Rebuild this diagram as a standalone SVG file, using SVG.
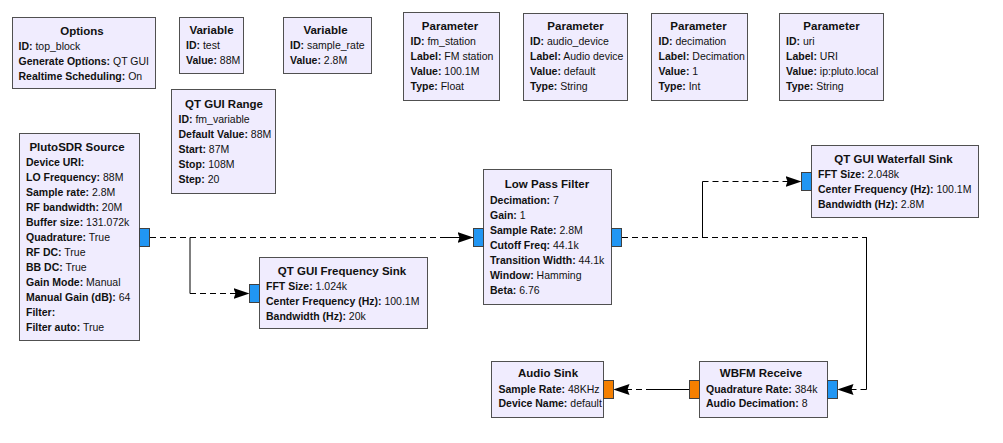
<svg xmlns="http://www.w3.org/2000/svg" width="1003" height="443" viewBox="0 0 1003 443">
<style>
text{font-family:"Liberation Sans",Arial,sans-serif;fill:#111}
.t{font-size:11.5px;font-weight:bold;text-anchor:middle}
.b{font-size:10.5px}
.k{font-weight:bold}
.blk{fill:#F0ECFE;stroke:#505050;stroke-width:1}
.pc{fill:#2196F3;stroke:#404040;stroke-width:1}
.pf{fill:#F57F00;stroke:#404040;stroke-width:1}
.d{fill:none;stroke:#000;stroke-width:1;stroke-dasharray:6 4}
.s{fill:none;stroke:#000;stroke-width:1}
.a{marker-end:url(#arr)}
</style>
<defs>
<marker id="arr" markerUnits="userSpaceOnUse" markerWidth="16" markerHeight="12" viewBox="0 0 16 12" refX="16" refY="6" orient="auto">
<path d="M0,0.5 L16,6 L0,11.5 L2,6 z" fill="#000" stroke="none"/>
</marker>
</defs>
<rect width="1003" height="443" fill="#fff"/>

<g id="connectors">
<path class="d" d="M150,237.5 H457"/>
<path class="s a" d="M440,237.5 H473.5"/>
<path class="s" d="M190,237.5 V293.5"/>
<path class="d a" d="M190,293.5 H249.5"/>
<path class="d" d="M622,237.5 H867"/>
<path class="s" d="M702.5,237.5 V181.5"/>
<path class="d a" d="M702.5,181.5 H801.5"/>
<path class="s" d="M866.5,237.5 V389.5"/>
<path class="d a" d="M866.5,389.5 H837.5"/>
<path class="s" d="M689.5,389.5 H652"/>
<path class="d a" d="M652,389.5 H613.5"/>
</g>

<g id="options">
<rect class="blk" x="12.5" y="17.5" width="143" height="71"/>
<text class="t" x="82" y="34.5">Options</text>
<text class="b" x="18.5" y="49.5"><tspan class="k">ID:</tspan> top_block</text>
<text class="b" x="18.5" y="64.5"><tspan class="k">Generate Options:</tspan> QT GUI</text>
<text class="b" x="18.5" y="79.5"><tspan class="k">Realtime Scheduling:</tspan> On</text>
</g>

<g id="variable_test">
<rect class="blk" x="179.5" y="17.5" width="64" height="56"/>
<text class="t" x="211.5" y="34">Variable</text>
<text class="b" x="186" y="49"><tspan class="k">ID:</tspan> test</text>
<text class="b" x="186" y="64"><tspan class="k">Value:</tspan> 88M</text>
</g>

<g id="variable_sample_rate">
<rect class="blk" x="283.5" y="17.5" width="88" height="56"/>
<text class="t" x="325.5" y="34">Variable</text>
<text class="b" x="290" y="49"><tspan class="k">ID:</tspan> sample_rate</text>
<text class="b" x="290" y="64"><tspan class="k">Value:</tspan> 2.8M</text>
</g>

<g id="param_fm_station">
<rect class="blk" x="403.5" y="12.5" width="96" height="88"/>
<text class="t" x="450" y="29.5">Parameter</text>
<text class="b" x="410.5" y="44.5"><tspan class="k">ID:</tspan> fm_station</text>
<text class="b" x="410.5" y="59.5"><tspan class="k">Label:</tspan> FM station</text>
<text class="b" x="410.5" y="74.5"><tspan class="k">Value:</tspan> 100.1M</text>
<text class="b" x="410.5" y="89.5"><tspan class="k">Type:</tspan> Float</text>
</g>

<g id="param_audio_device">
<rect class="blk" x="523.5" y="13.5" width="104" height="87"/>
<text class="t" x="575.5" y="30">Parameter</text>
<text class="b" x="530" y="45"><tspan class="k">ID:</tspan> audio_device</text>
<text class="b" x="530" y="60"><tspan class="k">Label:</tspan> Audio device</text>
<text class="b" x="530" y="75"><tspan class="k">Value:</tspan> default</text>
<text class="b" x="530" y="90"><tspan class="k">Type:</tspan> String</text>
</g>

<g id="param_decimation">
<rect class="blk" x="651.5" y="13.5" width="96" height="87"/>
<text class="t" x="698.5" y="30">Parameter</text>
<text class="b" x="658.5" y="45"><tspan class="k">ID:</tspan> decimation</text>
<text class="b" x="658.5" y="60"><tspan class="k">Label:</tspan> Decimation</text>
<text class="b" x="658.5" y="75"><tspan class="k">Value:</tspan> 1</text>
<text class="b" x="658.5" y="90"><tspan class="k">Type:</tspan> Int</text>
</g>

<g id="param_uri">
<rect class="blk" x="779.5" y="13.5" width="104" height="87"/>
<text class="t" x="831.5" y="30">Parameter</text>
<text class="b" x="786" y="45"><tspan class="k">ID:</tspan> uri</text>
<text class="b" x="786" y="60"><tspan class="k">Label:</tspan> URI</text>
<text class="b" x="786" y="75"><tspan class="k">Value:</tspan> ip:pluto.local</text>
<text class="b" x="786" y="90"><tspan class="k">Type:</tspan> String</text>
</g>

<g id="qt_gui_range">
<rect class="blk" x="171.5" y="89.5" width="104" height="104"/>
<text class="t" x="224" y="107.5">QT GUI Range</text>
<text class="b" x="178.5" y="122.5"><tspan class="k">ID:</tspan> fm_variable</text>
<text class="b" x="178.5" y="137.5"><tspan class="k">Default Value:</tspan> 88M</text>
<text class="b" x="178.5" y="152.5"><tspan class="k">Start:</tspan> 87M</text>
<text class="b" x="178.5" y="167.5"><tspan class="k">Stop:</tspan> 108M</text>
<text class="b" x="178.5" y="182.5"><tspan class="k">Step:</tspan> 20</text>
</g>

<g id="plutosdr_source">
<rect class="blk" x="19.5" y="133.5" width="120" height="207"/>
<text class="t" x="77" y="150.5">PlutoSDR Source</text>
<text class="b" x="26" y="165.5"><tspan class="k">Device URI:</tspan></text>
<text class="b" x="26" y="180.5"><tspan class="k">LO Frequency:</tspan> 88M</text>
<text class="b" x="26" y="195.5"><tspan class="k">Sample rate:</tspan> 2.8M</text>
<text class="b" x="26" y="210.5"><tspan class="k">RF bandwidth:</tspan> 20M</text>
<text class="b" x="26" y="225.5"><tspan class="k">Buffer size:</tspan> 131.072k</text>
<text class="b" x="26" y="240.5"><tspan class="k">Quadrature:</tspan> True</text>
<text class="b" x="26" y="255.5"><tspan class="k">RF DC:</tspan> True</text>
<text class="b" x="26" y="270.5"><tspan class="k">BB DC:</tspan> True</text>
<text class="b" x="26" y="285.5"><tspan class="k">Gain Mode:</tspan> Manual</text>
<text class="b" x="26" y="300.5"><tspan class="k">Manual Gain (dB):</tspan> 64</text>
<text class="b" x="26" y="315.5"><tspan class="k">Filter:</tspan></text>
<text class="b" x="26" y="330.5"><tspan class="k">Filter auto:</tspan> True</text>
<rect class="pc" x="139.5" y="228.5" width="10" height="18"/>
</g>

<g id="qt_gui_freq_sink">
<rect class="blk" x="259.5" y="257.5" width="168" height="71"/>
<text class="t" x="342" y="274.5">QT GUI Frequency Sink</text>
<text class="b" x="266" y="290"><tspan class="k">FFT Size:</tspan> 1.024k</text>
<text class="b" x="266" y="305"><tspan class="k">Center Frequency (Hz):</tspan> 100.1M</text>
<text class="b" x="266" y="320"><tspan class="k">Bandwidth (Hz):</tspan> 20k</text>
<rect class="pc" x="249.5" y="284.5" width="10" height="18"/>
</g>

<g id="low_pass_filter">
<rect class="blk" x="483.5" y="169.5" width="128" height="135"/>
<text class="t" x="547" y="188">Low Pass Filter</text>
<text class="b" x="490" y="203.5"><tspan class="k">Decimation:</tspan> 7</text>
<text class="b" x="490" y="218.5"><tspan class="k">Gain:</tspan> 1</text>
<text class="b" x="490" y="233.5"><tspan class="k">Sample Rate:</tspan> 2.8M</text>
<text class="b" x="490" y="248.5"><tspan class="k">Cutoff Freq:</tspan> 44.1k</text>
<text class="b" x="490" y="263.5"><tspan class="k">Transition Width:</tspan> 44.1k</text>
<text class="b" x="490" y="278.5"><tspan class="k">Window:</tspan> Hamming</text>
<text class="b" x="490" y="293.5"><tspan class="k">Beta:</tspan> 6.76</text>
<rect class="pc" x="473.5" y="228.5" width="10" height="18"/>
<rect class="pc" x="611.5" y="228.5" width="10" height="18"/>
</g>

<g id="qt_gui_waterfall_sink">
<rect class="blk" x="811.5" y="145.5" width="167" height="72"/>
<text class="t" x="893.5" y="162.5">QT GUI Waterfall Sink</text>
<text class="b" x="818" y="177.5"><tspan class="k">FFT Size:</tspan> 2.048k</text>
<text class="b" x="818" y="192.5"><tspan class="k">Center Frequency (Hz):</tspan> 100.1M</text>
<text class="b" x="818" y="207.5"><tspan class="k">Bandwidth (Hz):</tspan> 2.8M</text>
<rect class="pc" x="801.5" y="172.5" width="10" height="18"/>
</g>

<g id="wbfm_receive">
<rect class="blk" x="699.5" y="361.5" width="128" height="56"/>
<text class="t" x="761" y="377">WBFM Receive</text>
<text class="b" x="706" y="392.5"><tspan class="k">Quadrature Rate:</tspan> 384k</text>
<text class="b" x="706" y="407"><tspan class="k">Audio Decimation:</tspan> 8</text>
<rect class="pc" x="827.5" y="380.5" width="10" height="18"/>
<rect class="pf" x="689.5" y="380.5" width="10" height="18"/>
</g>

<g id="audio_sink">
<rect class="blk" x="491.5" y="361.5" width="112" height="56"/>
<text class="t" x="548" y="377">Audio Sink</text>
<text class="b" x="498.5" y="392.5"><tspan class="k">Sample Rate:</tspan> 48KHz</text>
<text class="b" x="498.5" y="407"><tspan class="k">Device Name:</tspan> default</text>
<rect class="pf" x="603.5" y="380.5" width="10" height="18"/>
</g>
</svg>
